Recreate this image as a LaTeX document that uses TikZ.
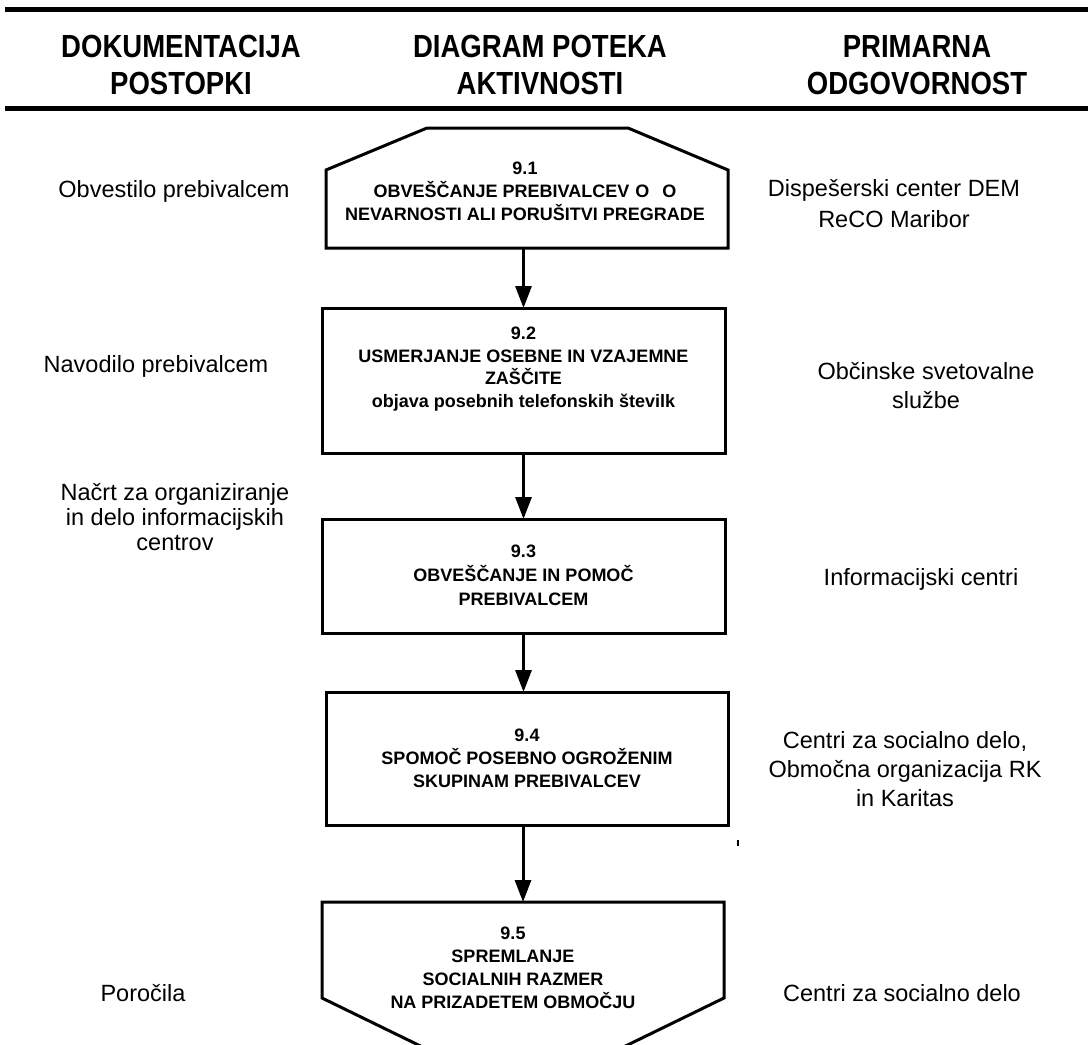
\documentclass[tikz,border=0pt]{standalone}
\usepackage{fontspec}
\setmainfont{Liberation Sans}
\newfontfamily\hdrfont{Liberation Sans}[FakeStretch=0.86]
\usetikzlibrary{arrows.meta,calc}
\begin{document}
\begin{tikzpicture}[x=1pt,y=-1pt,
  hdr/.style={font=\hdrfont\bfseries\fontsize{32}{37}\selectfont, align=center, inner sep=0pt, anchor=north},
  coltext/.style={font=\fontsize{23.5}{29}\selectfont, align=center, inner sep=0pt},
  boxtxt/.style={font=\bfseries\fontsize{18}{23}\selectfont, align=center, inner sep=0pt, anchor=north},
  frame/.style={draw, line width=3pt, line join=miter},
  holder/.style={draw=none, inner sep=0pt, outer sep=0pt},
  rectbox/.style={draw, line width=3pt, inner sep=0pt, outer sep=0pt},
  arr/.style={line width=3pt, -{Triangle[length=22pt,width=16pt]}},
  rule/.style={line width=5pt}
]
\useasboundingbox (0,0) rectangle (1088,1045);
\clip (0,0) rectangle (1088,1045);

% header rules
\coordinate (tl) at (5,9.5);
\coordinate (tr) at (1088,9.5);
\coordinate (bl) at (5,108.5);
\coordinate (br) at (1088,108.5);
\draw[rule] (tl) -- (tr);
\draw[rule] (bl) -- (br);

% header titles
\node[hdr] (h1) at (181,35) {DOKUMENTACIJA\\POSTOPKI};
\node[hdr] (h2) at (540,35) {DIAGRAM POTEKA\\AKTIVNOSTI};
\node[hdr] (h3) at (917,35) {PRIMARNA\\ODGOVORNOST};

% flow boxes
\node[holder, minimum width=402pt, minimum height=120pt] (b1) at (527,188) {};
\draw[frame] (b1.south west) -- ($(b1.north west)+(0,42)$) -- ($(b1.north)+(-100,0)$)
  -- ($(b1.north)+(101,0)$) -- ($(b1.north east)+(0,42)$) -- (b1.south east) -- cycle;

\node[rectbox, minimum width=403pt, minimum height=145pt] (b2) at (523.5,380.5) {};
\node[rectbox, minimum width=403pt, minimum height=114pt] (b3) at (523.5,576) {};
\node[rectbox, minimum width=402pt, minimum height=133pt] (b4) at (527,758.5) {};

\node[holder, minimum width=402pt, minimum height=96pt] (b5) at (523,950) {};
\draw[frame] (b5.south west) -- (b5.north west) -- (b5.north east) -- (b5.south east)
  -- ($(b5.south)+(0,98)$) -- cycle;

% box texts
\node[boxtxt] (t1) at (525,162) {9.1\\OBVEŠČANJE PREBIVALCEV\hspace{6pt}O\hspace{13pt}O\hspace*{16pt}\\NEVARNOSTI ALI PORUŠITVI PREGRADE};
\node[boxtxt, font=\bfseries\fontsize{18}{22.5}\selectfont] (t2) at (523.5,327) {9.2\\USMERJANJE OSEBNE IN VZAJEMNE\\ZAŠČITE\\objava posebnih telefonskih številk};
\node[boxtxt, font=\bfseries\fontsize{18}{24}\selectfont] (t3) at (523.5,545) {9.3\\OBVEŠČANJE IN POMOČ\\PREBIVALCEM};
\node[boxtxt] (t4) at (527,729) {9.4\\SPOMOČ POSEBNO OGROŽENIM\\SKUPINAM PREBIVALCEV};
\node[boxtxt] (t5) at (513,927) {9.5\\SPREMLANJE\\SOCIALNIH RAZMER\\NA PRIZADETEM OBMOČJU};

% connectors
\draw[arr] (b2.north |- b1.south) -- (b2.north);
\draw[arr] (b2.south) -- (b3.north);
\draw[arr] (b3.south) -- (b3.south |- b4.north);
\draw[arr] (b5.north |- b4.south) -- (b5.north);

% left column
\node[coltext, anchor=base] (l1) at (174,197) {Obvestilo prebivalcem};
\node[coltext, anchor=base] (l2) at (156,372) {Navodilo prebivalcem};
\node[coltext, anchor=north, font=\fontsize{23.5}{25}\selectfont] (l3) at (175,483) {Načrt za organiziranje\\in delo informacijskih\\centrov};
\node[coltext, anchor=base] (l4) at (143,1001) {Poročila};

% right column
\node[coltext, anchor=north, font=\fontsize{23.5}{31}\selectfont] (r1) at (894,179) {Dispešerski center DEM\\ReCO Maribor};
\node[coltext, anchor=north] (r2) at (926,362) {Občinske svetovalne\\službe};
\node[coltext, anchor=base] (r3) at (921,585) {Informacijski centri};
\node[coltext, anchor=north] (r4) at (905,731) {Centri za socialno delo,\\Območna organizacija RK\\in Karitas};
\node[coltext, anchor=base] (r5) at (902,1001) {Centri za socialno delo};

% stray mark
\coordinate (m1) at (738,840);
\coordinate (m2) at (738,846);
\draw[line width=1.5pt] (m1) -- (m2);
\end{tikzpicture}
\end{document}
